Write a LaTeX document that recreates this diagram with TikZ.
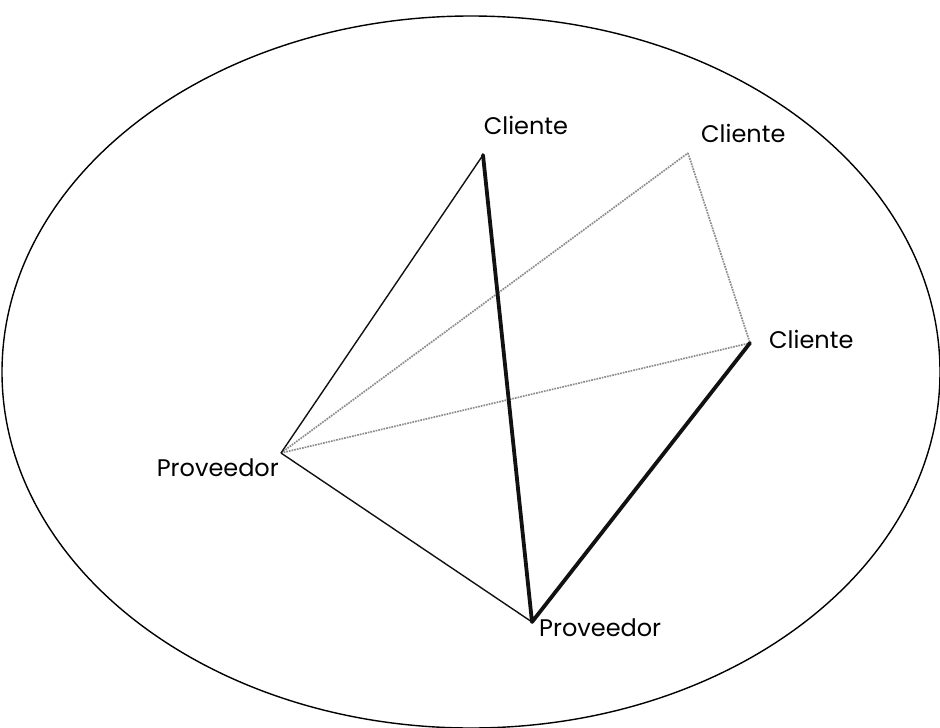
\documentclass[tikz,border=0pt]{standalone}
\usepackage{fontspec}
\setmainfont{Poppins}
\usepackage{xcolor}
\usepackage{tikz}
\definecolor{linkblack}{HTML}{111111}
\definecolor{linkgray}{HTML}{8C8C8C}
\tikzset{
  actor/.style={inner sep=1pt,font=\fontsize{24}{27}\selectfont},
  link/.style={draw=linkblack,line width=1.4pt},
  strong link/.style={draw=linkblack,line width=3.8pt,line cap=round},
  faint link/.style={draw=linkgray,line width=1.7pt,densely dotted},
  market/.style={draw=black,line width=1.4pt}
}
\begin{document}
\begin{tikzpicture}[x=1pt,y=-1pt]
  \useasboundingbox (0,0) rectangle (940,728);
  \draw[market] (471,372) ellipse [x radius=469pt, y radius=356pt];
  \coordinate (c1) at (483,155);
  \coordinate (c2) at (688,153);
  \coordinate (c3) at (750,343);
  \coordinate (p1) at (281,453);
  \coordinate (p2) at (532,622);
  \node[actor,anchor=base] (c1 label) at (526,134) {Cliente};
  \node[actor,anchor=base west] (c2 label) at (700,142) {Cliente};
  \node[actor,anchor=base west] (c3 label) at (768,348) {Cliente};
  \node[actor,anchor=base east] (p1 label) at (280,476) {Proveedor};
  \node[actor,anchor=base west] (p2 label) at (538,636) {Proveedor};
  \draw[faint link] (p1)--(c2) (p1)--(c3) (c2)--(c3);
  \draw[link] (p1)--(c1) (p1)--(p2);
  \draw[strong link] (c1)--(p2) (p2)--(c3);
\end{tikzpicture}
\end{document}
